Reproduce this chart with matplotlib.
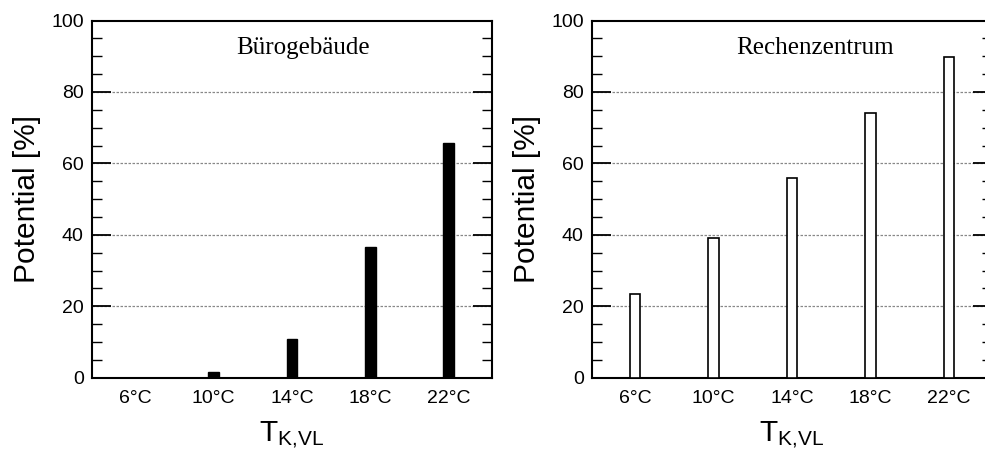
import matplotlib
matplotlib.use("Agg")
import matplotlib.pyplot as plt
from matplotlib.ticker import MultipleLocator

plt.rcParams["font.family"] = ["Liberation Sans", "DejaVu Sans"]
plt.rcParams["mathtext.default"] = "regular"

# data
categories = ["6°C", "10°C", "14°C", "18°C", "22°C"]
buero = [0.0, 1.5, 10.8, 36.7, 65.8]
rechenzentrum = [23.4, 39.2, 55.9, 74.2, 89.7]
titles = ["Bürogebäude", "Rechenzentrum"]

fig = plt.figure(figsize=(9.85, 4.49), dpi=100)
W, H = 985.0, 449.0
ax1 = fig.add_axes([92 / W, (449 - 377.7) / H, 400 / W, 357.2 / H])
ax2 = fig.add_axes([592 / W, (449 - 377.7) / H, 400 / W, 357.2 / H])

x = list(range(len(categories)))
ax1.bar(x, buero, width=0.14, color="black", edgecolor="black", linewidth=1, zorder=3)
ax2.bar(x, rechenzentrum, width=0.13, color="white", edgecolor="black", linewidth=1.2, zorder=3)

for ax, title in zip([ax1, ax2], titles):
    ax.set_xlim(-0.55, 4.55)
    ax.set_ylim(0, 100)
    ax.set_xticks(x)
    ax.set_xticklabels(categories)
    ax.yaxis.set_major_locator(MultipleLocator(20))
    ax.yaxis.set_minor_locator(MultipleLocator(5))
    ax.tick_params(axis="y", which="major", direction="in", length=14, width=1.3,
                   left=True, right=True, labelsize=14, pad=6)
    ax.tick_params(axis="y", which="minor", direction="in", length=7, width=1,
                   left=True, right=True)
    ax.tick_params(axis="x", length=0, labelsize=14, pad=9)
    for s in ax.spines.values():
        s.set_linewidth(1.5)
    for yv in [20, 40, 60, 80]:
        ax.axhline(yv, color="#888888", linestyle=(0, (2, 1.2)), linewidth=0.9, zorder=1)
    ax.text(0.36, 0.955, title, transform=ax.transAxes, ha="left", va="top",
            fontsize=18, family="Liberation Serif")
    ax.set_ylabel("Potential [%]", fontsize=21.5, labelpad=7)
    ax.set_xlabel(r"T$_{K{,}VL}$", fontsize=21.5, labelpad=9)

fig.savefig("out.png", dpi=100)
